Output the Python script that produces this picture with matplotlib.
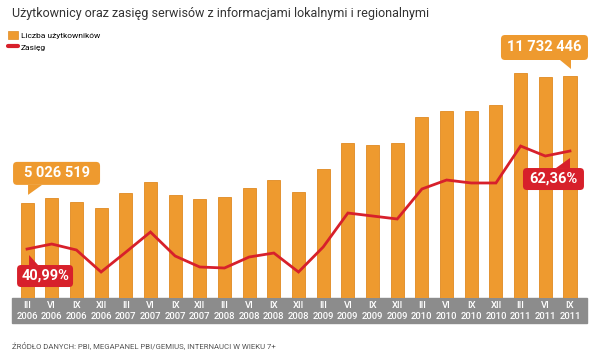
import matplotlib
matplotlib.use("Agg")
import matplotlib.pyplot as plt
from matplotlib.patches import FancyBboxPatch, Polygon, Rectangle, Patch
from matplotlib.lines import Line2D
from matplotlib.transforms import IdentityTransform

plt.rcParams['font.family'] = ['Roboto', 'DejaVu Sans']

# ---- data ----
quarters = ["III", "VI", "IX", "XII", "III", "VI", "IX", "XII", "III", "VI", "IX", "XII",
            "III", "VI", "IX", "XII", "III", "VI", "IX", "XII", "III", "VI", "IX"]
years = ["2006", "2006", "2006", "2006", "2007", "2007", "2007", "2007", "2008", "2008", "2008", "2008",
         "2009", "2009", "2009", "2009", "2010", "2010", "2010", "2010", "2011", "2011", "2011"]
users = [5026519, 5290000, 5070000, 4760000, 5550000, 6130000, 5440000, 5230000, 5340000, 5810000,
         6240000, 5600000, 6820000, 8190000, 8090000, 8190000, 9570000, 9880000, 9880000, 10200000,
         11890000, 11680000, 11732446]
reach = [40.99, 42.08, 40.78, 35.98, 40.30, 44.70, 39.47, 37.07, 36.85, 39.25, 40.12, 35.98,
         41.43, 48.84, 48.19, 47.54, 54.08, 56.04, 55.39, 55.39, 63.45, 61.27, 62.36]

title = "Użytkownicy oraz zasięg serwisów z informacjami lokalnymi i regionalnymi"
legend_labels = ["Liczba użytkowników", "Zasięg"]
source = "ŹRÓDŁO DANYCH: PBI, MEGAPANEL PBI/GEMIUS, INTERNAUCI W WIEKU 7+"

ORANGE = "#EE9A2F"
ORANGE_EDGE = "#E08A22"
RED = "#D7202B"
BAND = "#8C8C8C"

W, H = 600, 351
fig = plt.figure(figsize=(W / 100, H / 100), dpi=100)
fig.patch.set_facecolor("white")

ax = fig.add_axes([12 / W, 53 / H, 575 / W, 258 / H])
x = list(range(len(users)))
ax.bar(x, users, width=0.53, color=ORANGE, edgecolor=ORANGE_EDGE, linewidth=0.6, zorder=2)
ax.set_xlim(-0.61, len(users) - 1 + 0.69)
ax.set_ylim(0, 13635000)
ax.set_yticks([])
for s in ax.spines.values():
    s.set_visible(False)

ax.set_xticks(x)
ax.set_xticklabels([f"{q}\n{y}" for q, y in zip(quarters, years)], color="white",
                   fontsize=6.8, fontweight="medium", linespacing=1.15)
ax.tick_params(axis="x", length=0, pad=2.5)
ax.add_patch(Rectangle((0, 0), 1, -25 / 258, transform=ax.transAxes, color=BAND,
                       clip_on=False, zorder=0))

ax2 = ax.twinx()
ax2.plot(x, reach, color=RED, lw=2.0, solid_joinstyle="miter", zorder=3)
ax2.set_ylim(30.31, 86.57)
ax2.set_yticks([])
for s in ax2.spines.values():
    s.set_visible(False)

# ---- title, legend, source ----
fig.text(12 / W, 1 - 14 / H, title, fontsize=9.0, color="#333333", va="center", ha="left")
handles = [Patch(facecolor=ORANGE, edgecolor=ORANGE_EDGE, linewidth=0.5),
           Line2D([0], [0], color=RED, lw=3, solid_capstyle="round")]
fig.legend(handles, legend_labels, loc="upper left", bbox_to_anchor=(8 / W, 1 - 31 / H),
           frameon=False, fontsize=6.0, handlelength=1.2, handleheight=1.1,
           handletextpad=0.35, labelspacing=0.45, borderaxespad=0, borderpad=0)
fig.text(12 / W, 1 - 345 / H, source, fontsize=5.6, color="#555555", va="center", ha="left")

# ---- callouts (pixel offsets relative to data anchors, y downwards) ----
fig.canvas.draw()
ident = IdentityTransform()


def callout(anchor, box, pointer, color, text):
    axp, ayp = anchor
    x0, x1, y0, y1 = box
    bx0, bx1 = axp + x0, axp + x1
    by_top, by_bot = ayp - y0, ayp - y1
    fig.add_artist(FancyBboxPatch((bx0, by_bot), bx1 - bx0, by_top - by_bot,
                                  boxstyle="round,pad=0,rounding_size=4",
                                  facecolor=color, edgecolor="none",
                                  transform=ident, zorder=10))
    pts = [(axp + dx, ayp - dy) for dx, dy in pointer]
    fig.add_artist(Polygon(pts, closed=True, facecolor=color, edgecolor="none",
                           transform=ident, zorder=10))
    t = fig.text((bx0 + bx1) / 2, (by_top + by_bot) / 2, text, color="white",
                 fontsize=10.5, fontweight="bold", ha="center", va="center",
                 transform=ident, zorder=11)
    return t


fmt_users = lambda v: f"{v:,}".replace(",", " ")
fmt_pct = lambda v: f"{v:.2f}%".replace(".", ",")

a_bar0 = ax.transData.transform((x[0], users[0]))
a_barN = ax.transData.transform((x[-1], users[-1]))
a_line0 = ax2.transData.transform((x[0], reach[0]))
a_lineN = ax2.transData.transform((x[-1], reach[-1]))

callout(a_bar0, (-14, 73, -41, -18), [(1, -18), (15, -18), (1, -8)], ORANGE, fmt_users(users[0]))
callout(a_barN, (-69, 18, -41, -16), [(-10, -16), (1, -16), (1, -7)], ORANGE, fmt_users(users[-1]))
callout(a_line0, (-10, 46, 16, 38), [(2, 16), (11, 16), (2, 6)], RED, fmt_pct(reach[0]))
callout(a_lineN, (-47, 14, 17, 39), [(-14, 17), (0, 17), (0, 7)], RED, fmt_pct(reach[-1]))

fig.savefig("out.png", dpi=100)
